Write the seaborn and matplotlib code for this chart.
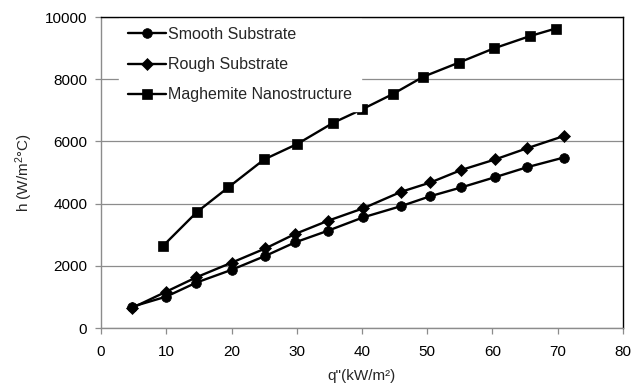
import matplotlib
matplotlib.use("Agg")
import matplotlib.pyplot as plt
import seaborn as sns
import pandas as pd

# Heat flux q" (kW/m²) and heat transfer coefficient h (W/m²°C) per surface
smooth_q = [4.7, 10.0, 14.6, 20.0, 25.2, 29.7, 34.8, 40.2, 46.0, 50.5, 55.2, 60.4, 65.3, 70.9]
smooth_h = [680, 1010, 1460, 1870, 2320, 2750, 3130, 3560, 3920, 4240, 4520, 4850, 5170, 5480]

rough_q = [4.7, 10.0, 14.6, 20.0, 25.2, 29.7, 34.8, 40.2, 46.0, 50.5, 55.2, 60.4, 65.3, 70.9]
rough_h = [640, 1170, 1630, 2100, 2560, 3020, 3450, 3850, 4380, 4680, 5080, 5420, 5780, 6170]

maghemite_q = [9.5, 14.7, 19.5, 25.0, 30.1, 35.6, 40.0, 44.7, 49.4, 54.8, 60.2, 65.8, 69.7]
maghemite_h = [2640, 3730, 4520, 5420, 5920, 6600, 7030, 7520, 8080, 8530, 8990, 9390, 9630]

series_names = ["Smooth Substrate", "Rough Substrate", "Maghemite Nanostructure"]
x_ticks = [0, 10, 20, 30, 40, 50, 60, 70, 80]
y_ticks = [0, 2000, 4000, 6000, 8000, 10000]

df = pd.concat([
    pd.DataFrame({"q": smooth_q, "h": smooth_h, "series": series_names[0]}),
    pd.DataFrame({"q": rough_q, "h": rough_h, "series": series_names[1]}),
    pd.DataFrame({"q": maghemite_q, "h": maghemite_h, "series": series_names[2]}),
], ignore_index=True)

sns.set_theme(style="white")
plt.rcParams["font.family"] = ["Liberation Sans", "DejaVu Sans"]
plt.rcParams["mathtext.fontset"] = "custom"
plt.rcParams["mathtext.rm"] = "Liberation Sans"
plt.rcParams["mathtext.it"] = "Liberation Sans"

fig = plt.figure(figsize=(6.33, 3.85), dpi=100)
ax = fig.add_axes([0.1596, 0.148, 0.8245, 0.8078])

markers = {series_names[0]: "o", series_names[1]: "D", series_names[2]: "s"}
sns.lineplot(
    data=df, x="q", y="h", style="series", style_order=series_names,
    markers=markers, dashes=False, color="black", estimator=None, sort=False,
    linewidth=1.7, markersize=7, markeredgecolor="black", markeredgewidth=0.5,
    ax=ax, legend=True,
)

# Diamonds render a touch larger than circles for the same size
for line in ax.lines:
    if line.get_marker() == "D":
        line.set_markersize(5.8)

ax.set_xlim(0, 80)
ax.set_ylim(0, 10000)
ax.set_xticks(x_ticks)
ax.set_yticks(y_ticks)
ax.set_xticklabels([str(v) for v in x_ticks])
ax.set_yticklabels([str(v) for v in y_ticks])

ax.yaxis.grid(True, color="#8c8c8c", linewidth=0.9)
ax.xaxis.grid(False)
ax.set_axisbelow(True)

for side in ["left", "bottom"]:
    ax.spines[side].set_color("#8c8c8c")
    ax.spines[side].set_linewidth(1.0)
for side in ["top", "right"]:
    ax.spines[side].set_color("black")
    ax.spines[side].set_linewidth(1.0)

ax.tick_params(axis="both", which="major", direction="out", length=4.5, width=0.9,
               color="#8c8c8c", labelsize=11, labelcolor="black")
ax.tick_params(axis="x", pad=8, bottom=True)
ax.tick_params(axis="y", pad=5.5, left=True)

ax.set_xlabel("q\"(kW/m²)", fontsize=11, labelpad=7)
ax.set_ylabel(r"h (W/m$^{2}$°C)", fontsize=11, labelpad=7)

handles, labels = ax.get_legend_handles_labels()
leg = ax.legend(
    handles, labels, loc="upper left", bbox_to_anchor=(0.034, 0.996),
    frameon=True, fancybox=False, framealpha=1.0, edgecolor="white",
    facecolor="white", fontsize=11.5, handlelength=2.4, handletextpad=0.15,
    labelspacing=0.95, borderpad=0.55, borderaxespad=0.0,
)
leg.set_zorder(2.4)

fig.savefig("out.png", dpi=100)
